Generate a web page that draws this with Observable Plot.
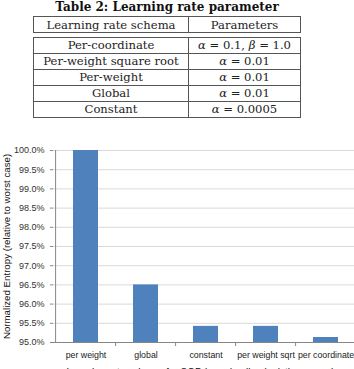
<!DOCTYPE html>
<html>
<head>
<meta charset="utf-8">
<script src="https://cdn.jsdelivr.net/npm/d3@7"></script>
<script src="https://cdn.jsdelivr.net/npm/@observablehq/plot@0.6"></script>
<style>
  html, body { margin: 0; padding: 0; background: #fff; overflow: hidden; width: 354px; height: 369px; }
  #title { position: absolute; left: 0; width: 334px; top: 0px; text-align: center;
    font: bold 12px "DejaVu Serif", serif; color: #111; line-height: 15px; }
  table { position: absolute; left: 33px; width: 268px; border-collapse: collapse;
    font: 11.6px "DejaVu Serif", serif; color: #222; table-layout: fixed; }
  td { border: 1.3px solid #555; text-align: center; padding: 0; height: 15px; line-height: 14px; }
  td:first-child { width: 154px; }
  #head { top: 16px; }
  #body { top: 36.5px; }
  #chart { position: absolute; left: 0; top: 140px; }
  #chart svg { max-width: none; }
</style>
</head>
<body>
<div id="title">Table 2: Learning rate parameter</div>
<table id="head"><tr><td>Learning rate schema</td><td>Parameters</td></tr></table>
<table id="body"></table>
<div id="chart"></div>
<script>
// Table data
const schemas = ["Per-coordinate", "Per-weight square root", "Per-weight", "Global", "Constant"];
const params = ["<i>α</i> = 0.1, <i>β</i> = 1.0", "<i>α</i> = 0.01", "<i>α</i> = 0.01", "<i>α</i> = 0.01", "<i>α</i> = 0.0005"];

// Chart data
const categories = ["per weight", "global", "constant", "per weight sqrt", "per coordinate"];
const values = [1.000, 0.9650, 0.9542, 0.9542, 0.9513];
const yTicks = [0.95, 0.955, 0.96, 0.965, 0.97, 0.975, 0.98, 0.985, 0.99, 0.995, 1.0];
const yMin = 0.95;
const yMax = 1.0;

const tbody = document.getElementById("body");
schemas.forEach((s, i) => {
  const tr = document.createElement("tr");
  const a = document.createElement("td"); a.textContent = s;
  const b = document.createElement("td"); b.innerHTML = params[i];
  tr.appendChild(a); tr.appendChild(b); tbody.appendChild(tr);
});

const data = categories.map((c, i) => ({category: c, value: values[i]}));
const W = 358, ML = 53, MR = 1;
const step = (W - ML - MR) / categories.length;

const chart = Plot.plot({
  width: W,
  height: 240,
  marginTop: 10,
  marginBottom: 38,
  marginLeft: ML,
  marginRight: MR,
  style: {fontFamily: "'Liberation Sans', sans-serif", fontSize: "9px", color: "#333", background: "transparent", overflow: "visible"},
  x: {domain: categories, paddingInner: 0.59, paddingOuter: 0.295, label: null},
  y: {domain: [yMin, yMax], label: null},
  marks: [
    Plot.gridY(yTicks, {stroke: "#d9d9d9", strokeOpacity: 1}),
    Plot.barY(data, {x: "category", y1: yMin, y2: "value", fill: "#4f81bd"}),
    Plot.ruleY([yMin], {stroke: "#868686"}),
    Plot.ruleX(categories.slice(1), {x: d => d, dx: -step / 2, y1: yMin, y2: yMin, insetTop: 4, stroke: "#868686"}),
    Plot.ruleX([categories[0]], {x: d => d, dx: -step / 2, y1: yMin, y2: yMax, stroke: "#868686"}),
    Plot.axisY(yTicks, {tickFormat: d3.format(".1%"), tickSize: 3, tickPadding: 6, stroke: "#868686", fill: "#333", label: null}),
    Plot.axisX({tickSize: 0, tickPadding: 9, fontSize: 8.8, fill: "#222", label: null}),
    Plot.text(["Learning rate schema for SGD based online logistic regression"], {frameAnchor: "bottom", dy: 33, fontSize: 10, fill: "#111", text: d => d}),
    Plot.text(["Normalized Entropy (relative to worst case)"], {frameAnchor: "left", textAnchor: "middle", dx: -47, rotate: -90, fontSize: 9.7, fill: "#111", text: d => d})
  ]
});
document.getElementById("chart").appendChild(chart);
</script>
</body>
</html>
